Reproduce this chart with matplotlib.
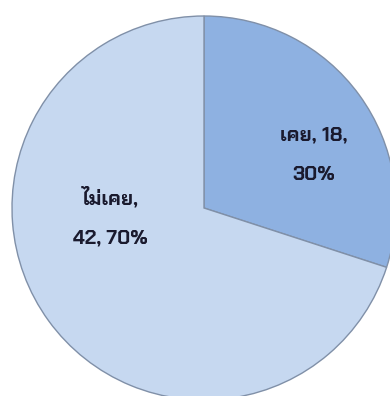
import matplotlib
matplotlib.use("Agg")
import matplotlib.pyplot as plt

categories = ["เคย", "ไม่เคย"]
counts = [18, 42]
percents = [30, 70]
colors = ["#8EB1E1", "#C6D8F0"]

W, H = 390, 396
cx, cy, R = 204, 208, 192  # pixels, from top-left

fig = plt.figure(figsize=(W / 100, H / 100), dpi=100)
ax = fig.add_axes([0, 0, 1, 1])
wedges, _ = ax.pie(counts, colors=colors, startangle=90, counterclock=False,
                   radius=1.0,
                   wedgeprops=dict(edgecolor="#8090A8", linewidth=1.0))
ax.set_aspect("auto")
ax.set_xlim(-cx / R, (W - cx) / R)
ax.set_ylim(-(H - cy) / R, cy / R)
ax.axis("off")

font = ["Chakra Petch", "DejaVu Sans"]
label_pos = [((314 - cx) / R, (cy - 155) / R), ((110 - cx) / R, (cy - 217) / R)]
texts = [f"{categories[0]}, {counts[0]},\n{percents[0]}%",
         f"{categories[1]},\n{counts[1]}, {percents[1]}%"]
for (x, y), t in zip(label_pos, texts):
    ax.text(x, y, t, ha="center", va="center", fontsize=14.5, fontweight="bold",
            family=font, color="#1a1a2e", linespacing=2.5)

fig.savefig("out.png", dpi=100)
